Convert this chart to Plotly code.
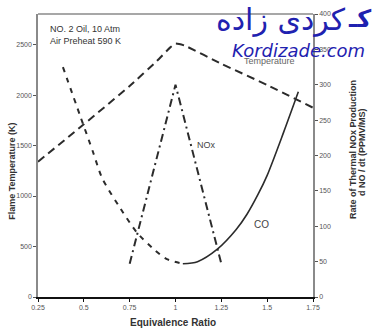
import plotly.graph_objects as go

# ---- data ----
temp_phi = [0.25, 0.5, 0.75, 0.9, 0.97, 1.0, 1.05, 1.25, 1.5, 1.75]
temp_K = [1340, 1710, 2090, 2340, 2470, 2510, 2490, 2310, 2100, 1875]

nox_phi = [0.75, 1.0, 1.25]
nox_rate = [47, 300, 47]

co_lean_phi = [0.386, 0.48, 0.55, 0.6, 0.7, 0.79, 0.88, 0.95, 1.04]
co_lean = [325, 256, 205, 168, 125, 91, 68, 54, 47]

co_rich_phi = [1.04, 1.12, 1.23, 1.33, 1.39, 1.45, 1.5, 1.59, 1.67]
co_rich = [47, 50, 68, 95, 117, 145, 172, 233, 290]

x_ticks = [0.25, 0.5, 0.75, 1.0, 1.25, 1.5, 1.75]
x_tick_text = ["0.25", "0.5", "0.75", "1", "1.25", "1.5", "1.75"]
left_ticks = [0, 500, 1000, 1500, 2000, 2500]
right_ticks = [0, 50, 100, 150, 200, 250, 300, 350, 400]

line_col = "#2b2b2b"
axis_gray = "#8a8a8a"
tick_font = dict(family="Liberation Sans Narrow, Liberation Sans, Arial", size=7, color="#555")
lab_font = dict(family="Liberation Sans, Arial", size=9, color="#333")
wm_blue = "#1f22b0"

fig = go.Figure()
fig.add_trace(go.Scatter(x=temp_phi, y=temp_K, mode="lines", yaxis="y",
                         line=dict(color=line_col, width=2, dash="8px,5px", shape="spline", smoothing=0.4)))
fig.add_trace(go.Scatter(x=nox_phi, y=nox_rate, mode="lines", yaxis="y2",
                         line=dict(color=line_col, width=2, dash="8px,4px,2px,4px")))
fig.add_trace(go.Scatter(x=co_lean_phi, y=co_lean, mode="lines", yaxis="y2",
                         line=dict(color=line_col, width=2, dash="5px,6px", shape="spline", smoothing=0.8)))
fig.add_trace(go.Scatter(x=co_rich_phi, y=co_rich, mode="lines", yaxis="y2",
                         line=dict(color=line_col, width=1.6, shape="spline", smoothing=0.8)))

ann = []
def add(text, x, y, font, xanchor="center", yanchor="middle", **kw):
    ann.append(dict(text=text, x=x, y=y, xref="paper", yref="paper", showarrow=False,
                    font=font, xanchor=xanchor, yanchor=yanchor, **kw))

def px(xp, yp):
    return (xp - 38) / 275.0, (297 - yp) / 287.0

# in-plot labels
x0, y0 = px(48, 25)
add("NO. 2 Oil, 10 Atm", x0, y0, lab_font, xanchor="left")
x0, y0 = px(48, 37)
add("Air Preheat 590 K", x0, y0, lab_font, xanchor="left")
x0, y0 = px(269, 58)
add("Temperature", x0, y0, dict(family="Liberation Sans, Arial", size=9, color="#666"))
x0, y0 = px(206, 143)
add("NOx", x0, y0, dict(family="Liberation Sans, Arial", size=9, color="#444"))
x0, y0 = px(261, 223)
add("CO", x0, y0, dict(family="Liberation Sans, Arial", size=10, color="#444"))

# axis titles
x0, y0 = px(12, 170)
add("<b>Flame Temperature (K)</b>", x0, y0, dict(family="Liberation Sans, Arial", size=9, color="#333"), textangle=-90)
x0, y0 = px(353, 148)
add("<b>Rate of Thermal NOx Production</b>", x0, y0, dict(family="Liberation Sans, Arial", size=9, color="#333"), textangle=-90)
x0, y0 = px(362, 150)
add("<b>d NO / dt (PPMV/MS)</b>", x0, y0, dict(family="Liberation Sans, Arial", size=9, color="#333"), textangle=-90)
x0, y0 = px(173, 323)
add("<b>Equivalence Ratio</b>", x0, y0, dict(family="Liberation Sans, Arial", size=10, color="#333"))

# watermark
x0, y0 = px(281, 16)
add("کردی زاده", x0, y0, dict(family="DejaVu Sans", size=30, color=wm_blue))
x0, y0 = px(373, 15)
add("<b>کـ</b>", x0, y0, dict(family="DejaVu Sans", size=24, color=wm_blue), xanchor="right")
x0, y0 = px(298, 47)
add("<i>Kordizade.com</i>", x0, y0, dict(family="DejaVu Sans", size=18, color=wm_blue))

fig.update_layout(
    width=373, height=333,
    margin=dict(l=38, r=60, t=10, b=36),
    paper_bgcolor="white", plot_bgcolor="white",
    showlegend=False,
    annotations=ann,
    xaxis=dict(range=[0.25, 1.75], tickvals=x_ticks, ticktext=x_tick_text,
               showgrid=False, zeroline=False, showline=True, linecolor="#111", linewidth=2,
               ticks="outside", ticklen=3, tickcolor="#111", tickfont=tick_font, mirror=False),
    yaxis=dict(range=[0, 2803], tickvals=left_ticks, showgrid=False, zeroline=False,
               showline=True, linecolor=axis_gray, linewidth=1.5, ticks="outside", ticklen=3,
               tickcolor="#555", tickfont=tick_font),
    yaxis2=dict(range=[0, 400], tickvals=right_ticks, overlaying="y", side="right",
                showgrid=False, zeroline=False, showline=True, linecolor=axis_gray, linewidth=1.5,
                ticks="outside", ticklen=3, tickcolor="#555", tickfont=tick_font),
    shapes=[dict(type="line", xref="paper", yref="paper", x0=0, x1=1, y0=1, y1=1,
                 line=dict(color=axis_gray, width=1.5))],
)

fig.write_html("out.html")
